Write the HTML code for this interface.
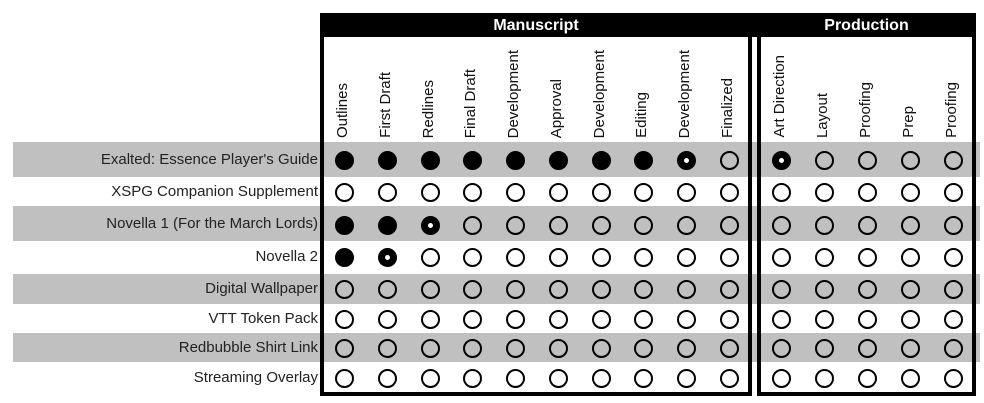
<!DOCTYPE html>
<html><head><style>
body{margin:0;width:984px;height:403px;background:#fff;position:relative;overflow:hidden;font-family:"Liberation Sans",sans-serif;}
.a{position:absolute}
.g{position:absolute;left:13px;width:967px;background:#c0c0c0}
.lbl{position:absolute;right:666px;font-size:15px;color:#222;white-space:nowrap;line-height:16px}
.vt{position:absolute;bottom:265px;font-size:15px;color:#111;white-space:nowrap;writing-mode:vertical-rl;transform:rotate(180deg);line-height:16px}
.c{position:absolute;width:15px;height:15px;border:2px solid #000;border-radius:50%;box-sizing:content-box}
.f{background:#000}
.p{width:5px;height:5px;border:7px solid #000;background:#fff}
</style></head><body>
<div class="g" style="top:142px;height:35px"></div>
<div class="g" style="top:206px;height:35px"></div>
<div class="g" style="top:274px;height:30px"></div>
<div class="g" style="top:333px;height:29px"></div>

<div class="a" style="left:320px;top:13px;width:656px;height:24px;background:#000"></div>
<div class="a" style="left:320px;top:13px;width:432px;height:24px;color:#fff;font-weight:bold;font-size:16px;text-align:center;line-height:26px">Manuscript</div>
<div class="a" style="left:757px;top:13px;width:219px;height:24px;color:#fff;font-weight:bold;font-size:16px;text-align:center;line-height:26px">Production</div>
<div class="a" style="left:320px;top:13px;width:424px;height:379px;border:4px solid #000;border-top:none"></div>
<div class="a" style="left:757px;top:13px;width:211px;height:379px;border:4px solid #000;border-top:none"></div>

<div class="lbl" style="top:152px">Exalted: Essence Player's Guide</div>
<div class="lbl" style="top:184px">XSPG Companion Supplement</div>
<div class="lbl" style="top:216px">Novella 1 (For the March Lords)</div>
<div class="lbl" style="top:249px">Novella 2</div>
<div class="lbl" style="top:281px">Digital Wallpaper</div>
<div class="lbl" style="top:311px">VTT Token Pack</div>
<div class="lbl" style="top:340px">Redbubble Shirt Link</div>
<div class="lbl" style="top:370px">Streaming Overlay</div>

<div id="h"></div>
<script>
var xs=[344,387,430,472,515,558,601,643,686,729,781,824,867,910,953];
var names=["Outlines","First Draft","Redlines","Final Draft","Development","Approval","Development","Editing","Development","Finalized","Art Direction","Layout","Proofing","Prep","Proofing"];
var ys=[160,192,225,257,289,319,348,378];
var data=[["f","f","f","f","f","f","f","f","p","o","p","o","o","o","o"],
[],["f","f","p"],["f","p"],[],[],[],[]];
var h="";
for(var i=0;i<15;i++){h+='<div class="vt" style="left:'+(xs[i]-9)+'px">'+names[i]+'</div>';}
for(var r=0;r<8;r++){for(var i=0;i<15;i++){var t=data[r][i]||"o";
h+='<div class="c '+(t=="f"?"f":t=="p"?"p":"")+'" style="left:'+(xs[i]-9.5)+'px;top:'+(ys[r]-9.5)+'px"></div>';}}
document.getElementById("h").innerHTML=h;
</script>
</body></html>
